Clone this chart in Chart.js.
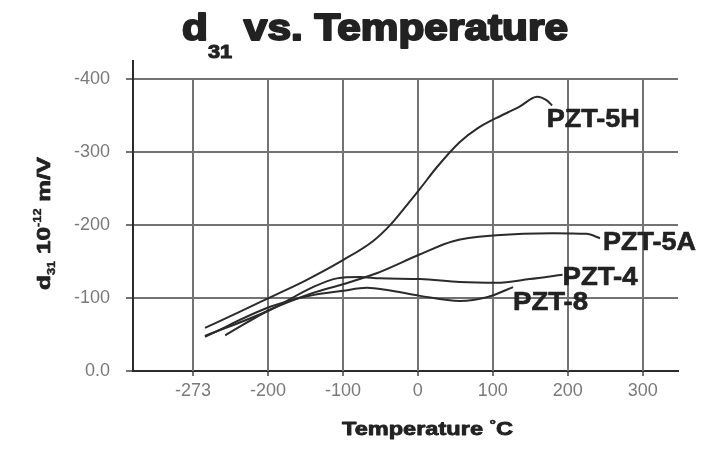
<!DOCTYPE html>
<html>
<head>
<meta charset="utf-8">
<script src="https://cdn.jsdelivr.net/npm/chart.js@4.4.1/dist/chart.umd.min.js"></script>
<style>
  body { margin: 0; background: #fff; }
  canvas { display: block; }
</style>
</head>
<body>
<canvas id="myChart" width="706" height="461"></canvas>
<script>
// tick values and the labels printed under them (the -300 slot is labelled -273)
var xTicks = [-300, -200, -100, 0, 100, 200, 300];
var xTickLabels = ['-273', '-200', '-100', '0', '100', '200', '300'];
var yTicks = [0, -100, -200, -300, -400];
var yTickLabels = ['0.0', '-100', '-200', '-300', '-400'];

var series = ['PZT-5H', 'PZT-5A', 'PZT-4', 'PZT-8'];

// temperature (C) and d31 (10^-12 m/V)
var temp5H = [-284, -240, -197, -150, -100, -60, -37, -15, 3, 25, 56, 80, 105, 135, 159, 172, 179];
var d5H    = [-59, -80, -101, -124, -152, -178, -200, -227, -250, -279, -314, -333, -347, -362, -376, -371, -364];

var temp5A = [-257, -197, -140, -100, -55, 3, 47, 105, 180, 225, 243];
var d5A    = [-49, -84, -107, -119, -134, -160, -178, -186, -189, -188, -182];

var temp4 = [-284, -197, -140, -108, -77, -51, 3, 56, 105, 149, 193];
var d4    = [-48, -84, -115, -127, -129, -127, -126, -122, -121, -126, -132];

var temp8 = [-284, -197, -140, -100, -68, -41, 3, 56, 92, 127];
var d8    = [-47, -88, -104, -110, -114, -111, -103, -96, -101, -115];

// where each curve name sits (left edge / baseline, in data units)
var labelTemp = [172, 247, 193, 127];
var labelD31  = [-334, -166, -118, -84];

var lineColor = '#2b2b2b';
var gridColor = '#737373';
var tickColor = '#7a7a7a';
var textColor = '#222222';
var fontFam = "'Liberation Sans', Arial, sans-serif";

function points(t, d) {
  return t.map(function (v, i) { return { x: v, y: d[i] }; });
}

function curve(name, t, d) {
  return {
    label: name,
    data: points(t, d),
    borderColor: lineColor,
    borderWidth: 2,
    pointRadius: 0,
    fill: false,
    tension: 0.4,
    cubicInterpolationMode: 'monotone'
  };
}

// bold text made of parts (sub/superscripts), stretched to a given width
function drawRich(ctx, parts, x, y, width, angle, heavy) {
  var total = 0;
  parts.forEach(function (p) {
    ctx.font = 'bold ' + p.s + 'px ' + fontFam;
    p.w = ctx.measureText(p.t).width;
    total += p.w;
  });
  ctx.save();
  ctx.translate(x, y);
  if (angle) ctx.rotate(angle);
  ctx.scale(width / total, 1);
  ctx.fillStyle = textColor;
  ctx.strokeStyle = textColor;
  ctx.lineJoin = 'round';
  ctx.textBaseline = 'alphabetic';
  ctx.textAlign = 'left';
  var cx = 0;
  parts.forEach(function (p) {
    ctx.font = 'bold ' + p.s + 'px ' + fontFam;
    ctx.fillText(p.t, cx, p.dy || 0);
    if (heavy) {
      ctx.lineWidth = heavy * p.s / 20;
      ctx.strokeText(p.t, cx, p.dy || 0);
    }
    cx += p.w;
  });
  ctx.restore();
}

var vGrid = {
  id: 'vGrid',
  beforeDatasetsDraw: function (chart) {
    var ctx = chart.ctx, xs = chart.scales.x, ys = chart.scales.y;
    var top = ys.getPixelForValue(-400), bottom = ys.getPixelForValue(0);
    ctx.save();
    ctx.strokeStyle = gridColor;
    ctx.lineWidth = 2;
    xTicks.forEach(function (v) {
      var px = Math.round(xs.getPixelForValue(v));
      ctx.beginPath();
      ctx.moveTo(px, top);
      ctx.lineTo(px, bottom);
      ctx.stroke();
    });
    ctx.restore();
  }
};

var texts = {
  id: 'texts',
  afterDraw: function (chart) {
    var ctx = chart.ctx, xs = chart.scales.x, ys = chart.scales.y;
    // title
    drawRich(ctx, [{ t: 'd', s: 37 }, { t: '31', s: 19, dy: 18 }, { t: ' vs. Temperature', s: 37 }], 182, 40, 386, 0, 1.1);
    // x title
    drawRich(ctx, [{ t: 'Temperature ', s: 19 }, { t: '\u00B0', s: 13, dy: -6 }, { t: 'C', s: 19 }], 342, 435, 171, 0, 0.9);
    // y title
    drawRich(ctx, [{ t: 'd', s: 19 }, { t: '31', s: 10, dy: 5 }, { t: ' 10', s: 19 }, { t: '-12', s: 10, dy: -9 }, { t: ' m/V', s: 19 }],
      50, 290, 133, -Math.PI / 2, 0.8);
    // curve names
    series.forEach(function (name, i) {
      var px = xs.getPixelForValue(labelTemp[i]);
      var py = ys.getPixelForValue(labelD31[i]);
      var w = name.length === 6 ? 93 : 75;
      drawRich(ctx, [{ t: name, s: 25 }], px, py, w, 0, 0.5);
    });
  }
};

new Chart(document.getElementById('myChart'), {
  type: 'line',
  data: {
    datasets: [
      curve(series[0], temp5H, d5H),
      curve(series[1], temp5A, d5A),
      curve(series[2], temp4, d4),
      curve(series[3], temp8, d8)
    ]
  },
  options: {
    responsive: false,
    animation: false,
    layout: { padding: { top: 61, right: 28, left: 0, bottom: 0 } },
    plugins: {
      legend: { display: false },
      tooltip: { enabled: false },
      title: { display: false }
    },
    scales: {
      x: {
        type: 'linear',
        min: -380,
        max: 347,
        afterFit: function (s) { s.height = 90; },
        afterBuildTicks: function (s) { s.ticks = xTicks.map(function (v) { return { value: v }; }); },
        grid: { drawOnChartArea: false, drawTicks: true, tickLength: 5, color: gridColor, lineWidth: 2 },
        border: { display: true, color: lineColor, width: 2 },
        ticks: {
          autoSkip: false,
          maxRotation: 0,
          padding: 4,
          color: tickColor,
          font: { family: fontFam, size: 18 },
          callback: function (v) { return xTickLabels[xTicks.indexOf(v)]; }
        }
      },
      y: {
        reverse: true,
        min: -425,
        max: 0,
        afterFit: function (s) { s.width = 133; },
        afterBuildTicks: function (s) { s.ticks = yTicks.map(function (v) { return { value: v }; }); },
        grid: { color: gridColor, lineWidth: 2, tickLength: 7 },
        border: { display: true, color: lineColor, width: 2 },
        ticks: {
          padding: 16,
          color: tickColor,
          font: { family: fontFam, size: 18 },
          callback: function (v) { return yTickLabels[yTicks.indexOf(v)]; }
        }
      }
    }
  },
  plugins: [vGrid, texts]
});
</script>
</body>
</html>
